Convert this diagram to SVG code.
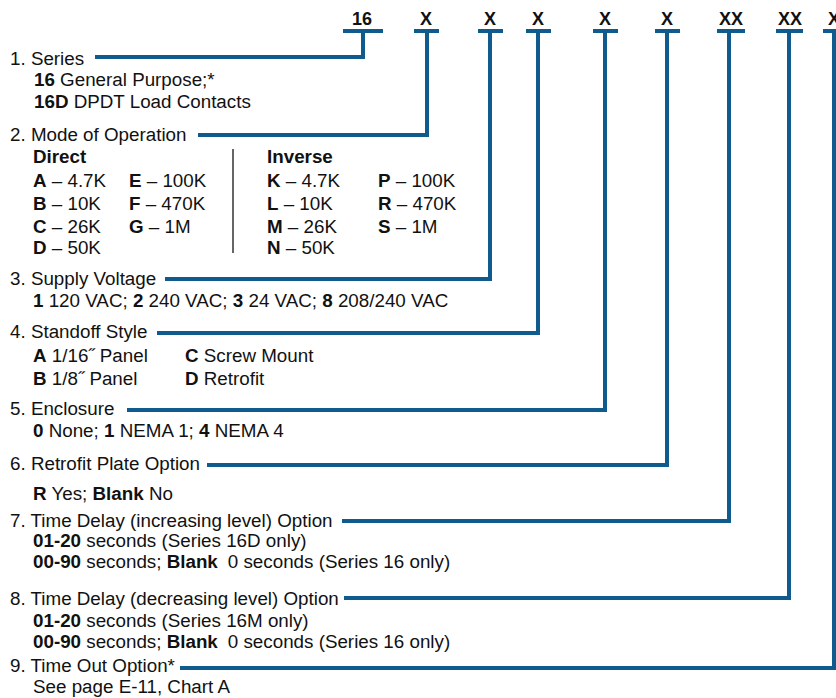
<svg xmlns="http://www.w3.org/2000/svg" width="836" height="698" viewBox="0 0 836 698">
<style>
  text { font-family: "Liberation Sans", Arial, sans-serif; font-size: 18.8px; fill: #111; }
  .b { font-weight: bold; }
  .code { font-weight: bold; font-size: 18px; text-anchor: middle; }
  .bar { stroke: #0f5b8e; stroke-width: 4; fill: none; }
  .ln { stroke: #0f5b8e; stroke-width: 4; fill: none; stroke-linejoin: miter; }
  .div { stroke: #333; stroke-width: 1.5; }
</style>
<rect width="836" height="698" fill="#ffffff"/>

<g id="codes">
  <g id="code-16"><text class="code" x="362" y="25">16</text><path class="bar" d="M343,31 H383"/></g>
  <g id="code-x1"><text class="code" x="426" y="25">X</text><path class="bar" d="M414,31 H439"/></g>
  <g id="code-x2"><text class="code" x="490" y="25">X</text><path class="bar" d="M478,31 H503"/></g>
  <g id="code-x3"><text class="code" x="538" y="25">X</text><path class="bar" d="M526,31 H551"/></g>
  <g id="code-x4"><text class="code" x="605" y="25">X</text><path class="bar" d="M593,31 H618"/></g>
  <g id="code-x5"><text class="code" x="667" y="25">X</text><path class="bar" d="M655,31 H680"/></g>
  <g id="code-xx1"><text class="code" x="731" y="25">XX</text><path class="bar" d="M717,31 H745"/></g>
  <g id="code-xx2"><text class="code" x="790" y="25">XX</text><path class="bar" d="M776,31 H803"/></g>
  <g id="code-x6"><text class="code" x="834" y="25">X</text><path class="bar" d="M823,31 H848"/></g>
</g>

<g id="connectors">
  <path class="ln" d="M95,57 H363 V31"/>
  <path class="ln" d="M198,135 H427 V31"/>
  <path class="ln" d="M165,279 H490 V31"/>
  <path class="ln" d="M157,333 H538 V31"/>
  <path class="ln" d="M127,410 H605 V31"/>
  <path class="ln" d="M207,465 H667 V31"/>
  <path class="ln" d="M342,521 H729 V31"/>
  <path class="ln" d="M344,598 H789 V31"/>
  <path class="ln" d="M180,668 H834 V31"/>
</g>

<g id="opt-1">
  <text x="10" y="65">1. Series</text>
  <text x="34" y="86"><tspan class="b">16</tspan> General Purpose;*</text>
  <text x="34" y="108"><tspan class="b">16D</tspan> DPDT Load Contacts</text>
</g>

<g id="opt-2">
  <text x="10" y="141">2. Mode of Operation</text>
  <text class="b" x="33" y="163">Direct</text>
  <text x="33" y="187"><tspan class="b">A</tspan> – 4.7K</text>
  <text x="33" y="210"><tspan class="b">B</tspan> – 10K</text>
  <text x="33" y="233"><tspan class="b">C</tspan> – 26K</text>
  <text x="33" y="254"><tspan class="b">D</tspan> – 50K</text>
  <text x="129" y="187"><tspan class="b">E</tspan> – 100K</text>
  <text x="129" y="210"><tspan class="b">F</tspan> – 470K</text>
  <text x="129" y="233"><tspan class="b">G</tspan> – 1M</text>
  <line class="div" x1="233" y1="149" x2="233" y2="253"/>
  <text class="b" x="267" y="163">Inverse</text>
  <text x="267" y="187"><tspan class="b">K</tspan> – 4.7K</text>
  <text x="267" y="210"><tspan class="b">L</tspan> – 10K</text>
  <text x="267" y="233"><tspan class="b">M</tspan> – 26K</text>
  <text x="267" y="254"><tspan class="b">N</tspan> – 50K</text>
  <text x="378" y="187"><tspan class="b">P</tspan> – 100K</text>
  <text x="378" y="210"><tspan class="b">R</tspan> – 470K</text>
  <text x="378" y="233"><tspan class="b">S</tspan> – 1M</text>
</g>

<g id="opt-3">
  <text x="10" y="285">3. Supply Voltage</text>
  <text x="33" y="307"><tspan class="b">1</tspan> 120 VAC; <tspan class="b">2</tspan> 240 VAC; <tspan class="b">3</tspan> 24 VAC; <tspan class="b">8</tspan> 208/240 VAC</text>
</g>

<g id="opt-4">
  <text x="10" y="338">4. Standoff Style</text>
  <text x="33" y="362"><tspan class="b">A</tspan> 1/16˝ Panel</text>
  <text x="33" y="385"><tspan class="b">B</tspan> 1/8˝ Panel</text>
  <text x="185" y="362"><tspan class="b">C</tspan> Screw Mount</text>
  <text x="185" y="385"><tspan class="b">D</tspan> Retrofit</text>
</g>

<g id="opt-5">
  <text x="10" y="415">5. Enclosure</text>
  <text x="33" y="437"><tspan class="b">0</tspan> None; <tspan class="b">1</tspan> NEMA 1; <tspan class="b">4</tspan> NEMA 4</text>
</g>

<g id="opt-6">
  <text x="10" y="470">6. Retrofit Plate Option</text>
  <text x="33" y="500"><tspan class="b">R</tspan> Yes; <tspan class="b">Blank</tspan> No</text>
</g>

<g id="opt-7">
  <text x="10" y="527">7. Time Delay (increasing level) Option</text>
  <text x="33" y="547"><tspan class="b">01-20</tspan> seconds (Series 16D only)</text>
  <text x="33" y="568"><tspan class="b">00-90</tspan> seconds; <tspan class="b">Blank</tspan><tspan dx="10">0 seconds (Series 16 only)</tspan></text>
</g>

<g id="opt-8">
  <text x="10" y="605">8. Time Delay (decreasing level) Option</text>
  <text x="33" y="627"><tspan class="b">01-20</tspan> seconds (Series 16M only)</text>
  <text x="33" y="648"><tspan class="b">00-90</tspan> seconds; <tspan class="b">Blank</tspan><tspan dx="10">0 seconds (Series 16 only)</tspan></text>
</g>

<g id="opt-9">
  <text x="10" y="672">9. Time Out Option*</text>
  <text x="33" y="693">See page E-11, Chart A</text>
</g>
</svg>
